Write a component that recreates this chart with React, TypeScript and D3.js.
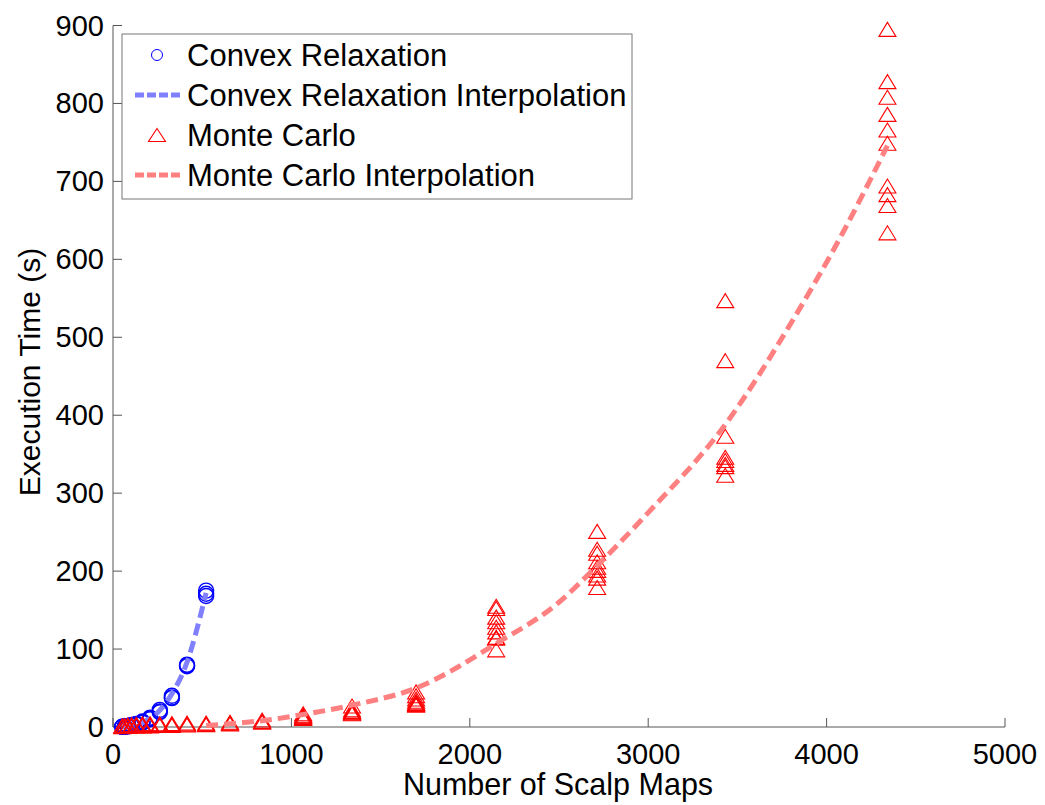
import React from "react";
import * as d3 from "d3";

// ---- data ----
const xTicks = [0, 1000, 2000, 3000, 4000, 5000];
const yTicks = [0, 100, 200, 300, 400, 500, 600, 700, 800, 900];

const crX = [52, 66, 83, 104, 131, 165, 208, 262, 330, 415, 522];
const crY = [
  [0.2, 0.3, 0.4],
  [0.4, 0.5, 0.7],
  [0.8, 1.0, 1.2],
  [1.5, 2, 2.5],
  [3, 3.5, 4],
  [5.5, 6, 7],
  [10, 11, 12],
  [19, 20, 22],
  [37, 38, 40],
  [78, 79, 80],
  [168, 171, 175],
];

const crFitX = [52, 100, 150, 200, 252, 320, 410, 522];
const crFitY = [0.2, 1.2, 4, 10, 19, 39, 80, 172];

const mcX = [52, 66, 83, 104, 131, 165, 208, 262, 330, 415, 522, 656, 836, 1066, 1340, 1699, 2148, 2714, 3432, 4341];
const mcY = [
  [0.5, 1, 1.5],
  [0.8, 1.2, 2],
  [1, 1.5, 2.5],
  [1.2, 2, 3],
  [1.5, 2.5, 3.5],
  [1.5, 2.5, 4],
  [1.5, 3, 4],
  [2, 3, 4],
  [2, 3, 4.5],
  [2.5, 3.5, 5],
  [3, 4, 5],
  [4, 5, 6],
  [6, 7, 9],
  [11, 12, 13, 14, 15, 17],
  [17, 18, 19, 20, 22, 27],
  [28, 29, 30, 31, 33, 36, 40, 45],
  [99, 114, 115, 122, 128, 135, 141, 152, 155],
  [179, 191, 195, 201, 205, 212, 223, 228, 251],
  [323, 334, 337, 342, 346, 373, 470, 547],
  [634, 669, 683, 694, 749, 766, 786, 808, 828, 895],
];

const mcFitX = [522, 700, 900, 1066, 1340, 1699, 2148, 2500, 2714, 3000, 3432, 3800, 4100, 4341];
const mcFitY = [2, 5, 10, 16, 28, 50, 107, 160, 207, 275, 388, 518, 638, 746];

const legendLabels = [
  "Convex Relaxation",
  "Convex Relaxation Interpolation",
  "Monte Carlo",
  "Monte Carlo Interpolation",
];

// ---- styling ----
const W = 1045;
const H = 805;
const FONT = "'Liberation Sans', Arial, Helvetica, sans-serif";
const BLUE = "#0000ff";
const RED = "#ff0000";
const BLUE_LINE = "#8080ff";
const RED_LINE = "#ff8080";
const AXIS = "#555";

function triPath(cx: number, cy: number, w: number, h: number) {
  return `M${cx},${cy - h / 2}L${cx + w / 2},${cy + h / 2}L${cx - w / 2},${cy + h / 2}Z`;
}

export default function App() {
  const x = d3.scaleLinear().domain([0, 5000]).range([113, 1005]);
  const y = d3.scaleLinear().domain([0, 900]).range([727, 25.5]);

  const line = d3
    .line<[number, number]>()
    .x((d) => x(d[0]))
    .y((d) => y(d[1]))
    .curve(d3.curveMonotoneX);

  const crFit = crFitX.map((v, i) => [v, crFitY[i]] as [number, number]);
  const mcFit = mcFitX.map((v, i) => [v, mcFitY[i]] as [number, number]);

  const crPts: [number, number][] = [];
  crX.forEach((v, i) => crY[i].forEach((t) => crPts.push([v, t])));
  const mcPts: [number, number][] = [];
  mcX.forEach((v, i) => mcY[i].forEach((t) => mcPts.push([v, t])));

  const x0 = x(0);
  const y0 = y(0);

  const legX = 122;
  const legY = 34;
  const legW = 510;
  const legH = 165;
  const rowY = [55, 95, 135, 175];

  return (
    <svg
      width={W}
      height={H}
      style={{ position: "absolute", left: 0, top: 0, background: "#fff" }}
      fontFamily={FONT}
    >
      <rect x={0} y={0} width={W} height={H} fill="#fff" />

      {/* axes */}
      <line x1={x0} y1={y(900)} x2={x0} y2={y0} stroke={AXIS} strokeWidth={1} />
      <line x1={x0} y1={y0} x2={x(5000)} y2={y0} stroke={AXIS} strokeWidth={1} />
      {xTicks.map((t) => (
        <g key={"xt" + t}>
          <line x1={x(t)} x2={x(t)} y1={y0} y2={y0 - 9} stroke={AXIS} />
          <text x={x(t)} y={764} fontSize={29} textAnchor="middle" fill="#000">
            {t}
          </text>
        </g>
      ))}
      {yTicks.map((t) => (
        <g key={"yt" + t}>
          <line x1={x0} x2={x0 + 9} y1={y(t)} y2={y(t)} stroke={AXIS} />
          <text x={104} y={y(t) + 10} fontSize={29} textAnchor="end" fill="#000">
            {t}
          </text>
        </g>
      ))}

      <text x={558} y={795} fontSize={30.5} textAnchor="middle" fill="#000">
        Number of Scalp Maps
      </text>
      <text
        transform={`translate(40,372) rotate(-90)`}
        fontSize={30}
        textAnchor="middle"
        fill="#000"
      >
        Execution Time (s)
      </text>

      {/* Convex relaxation points */}
      {crPts.map((p, i) => (
        <circle key={"c" + i} cx={x(p[0])} cy={y(p[1])} r={7.5} fill="none" stroke={BLUE} strokeWidth={1.4} />
      ))}
      <path d={line(crFit) || ""} fill="none" stroke={BLUE_LINE} strokeWidth={5} strokeDasharray="12 6" />

      {/* Monte Carlo points */}
      {mcPts.map((p, i) => (
        <path key={"m" + i} d={triPath(x(p[0]), y(p[1]), 17, 14)} fill="none" stroke={RED} strokeWidth={1.1} />
      ))}
      <path d={line(mcFit) || ""} fill="none" stroke={RED_LINE} strokeWidth={5} strokeDasharray="12 6" />

      {/* legend */}
      <rect x={legX} y={legY} width={legW} height={legH} fill="#fff" stroke="#777" strokeWidth={1} />
      <circle cx={157} cy={rowY[0]} r={5.5} fill="none" stroke={BLUE} strokeWidth={1} />
      <line x1={135} x2={181} y1={rowY[1]} y2={rowY[1]} stroke={BLUE_LINE} strokeWidth={5} strokeDasharray="9 3" />
      <path d={triPath(157, rowY[2], 17, 13)} fill="none" stroke={RED} strokeWidth={1.1} />
      <line x1={135} x2={181} y1={rowY[3]} y2={rowY[3]} stroke={RED_LINE} strokeWidth={5} strokeDasharray="9 3" />
      {legendLabels.map((l, i) => (
        <text key={l} x={187} y={rowY[i] + 11} fontSize={31} fill="#000">
          {l}
        </text>
      ))}
    </svg>
  );
}
